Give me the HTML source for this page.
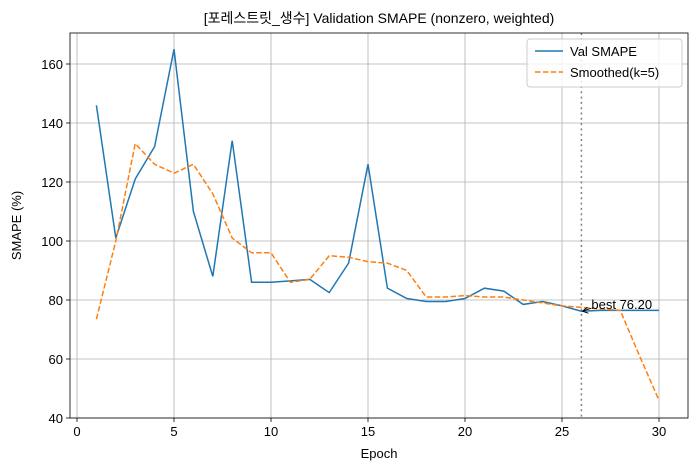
<!DOCTYPE html>
<html><head><meta charset="utf-8"><style>
body{margin:0;background:#fff;}
svg text{font-family:"Liberation Sans","Noto Sans CJK KR",sans-serif;fill:#000;}
</style></head><body>
<svg width="698" height="471" xmlns="http://www.w3.org/2000/svg">
<g id="grid"></g>
<g id="series"></g>
<g id="axes"></g>
</svg>
<script>
const epochs=[1,2,3,4,5,6,7,8,9,10,11,12,13,14,15,16,17,18,19,20,21,22,23,24,25,26,27,28,29,30];
const valSmape=[146,101,121,132,165,110,88,134,86,86,86.5,87,82.5,92.5,126,84,80.5,79.5,79.5,80.5,84,83,78.5,79.5,78,76.2,76.5,76.5,76.5,76.5];
const smoothed=[73.5,100,133,126,123,126,116,101,96,96,86,87,95,94.5,93,92.5,90,81,81,81.5,81,81,80,79,78,77.5,77,76.5,61,46];
const xTicks=[0,5,10,15,20,25,30];
const yTicks=[40,60,80,100,120,140,160];
const bestEpoch=26, bestVal=76.20;
const L=70,R=688,T=33,B=418;
const xS=v=>77+(v-0)*(659-77)/30;
const yS=v=>418-(v-40)*(418-64)/120;
const NS="http://www.w3.org/2000/svg";
function mk(tag,attrs,parent){const e=document.createElementNS(NS,tag);for(const k in attrs)e.setAttribute(k,attrs[k]);parent.appendChild(e);return e;}
const svg=document.querySelector('svg');
const grid=document.getElementById('grid'),ser=document.getElementById('series'),ax=document.getElementById('axes');
xTicks.forEach(t=>{const x=xS(t);
 let g=mk('line',{x1:x,x2:x,y1:T,y2:B,stroke:'#b0b0b0','stroke-width':0.8},grid);
 
 mk('line',{x1:x,x2:x,y1:B,y2:B+4,stroke:'#000','stroke-width':0.8},ax);
 let tx=mk('text',{x:x,y:B+18,'text-anchor':'middle','font-size':13},ax);tx.textContent=t;
 });
yTicks.forEach(t=>{const y=yS(t);
 let g=mk('line',{x1:L,x2:R,y1:y,y2:y,stroke:'#b0b0b0','stroke-width':0.8},grid);
 
 mk('line',{x1:L-4,x2:L,y1:y,y2:y,stroke:'#000','stroke-width':0.8},ax);
 let tx=mk('text',{x:L-7,y:y+5,'text-anchor':'end','font-size':13},ax);tx.textContent=t;
 });
let bl=mk('line',{x1:xS(bestEpoch),x2:xS(bestEpoch),y1:T,y2:B,stroke:'#808080','stroke-width':1.5,'stroke-dasharray':'2,3.3'},ser);

let p1=mk('polyline',{points:epochs.map((e,i)=>xS(e)+','+yS(valSmape[i])).join(' '),fill:'none',stroke:'#1f77b4','stroke-width':1.5},ser);

let p2=mk('polyline',{points:epochs.map((e,i)=>xS(e)+','+yS(smoothed[i])).join(' '),fill:'none',stroke:'#ff7f0e','stroke-width':1.5,'stroke-dasharray':'5.5,2.4'},ser);

const bx=xS(bestEpoch),by=yS(bestVal);
let ar=mk('path',{d:`M${bx+10},${by-3} L${bx+1},${by} M${bx+1},${by} l5,-4 M${bx+1},${by} l6,2`,stroke:'#000','stroke-width':1,fill:'none'},ax);

let at=mk('text',{x:bx+10,y:by-2,'font-size':13},ax);at.textContent='best '+bestVal.toFixed(2);

let fr=mk('rect',{x:L,y:T,width:R-L,height:B-T,fill:'none',stroke:'#000','stroke-width':0.8},ax);

let ti=mk('text',{x:(L+R)/2,y:23,'text-anchor':'middle','font-size':14},ax);ti.textContent='[포레스트릿_생수] Validation SMAPE (nonzero, weighted)';

let xl=mk('text',{x:(L+R)/2,y:458,'text-anchor':'middle','font-size':13},ax);xl.textContent='Epoch';

let yl=mk('text',{x:21,y:(T+B)/2,'text-anchor':'middle','font-size':13,transform:`rotate(-90 21 ${(T+B)/2})`},ax);yl.textContent='SMAPE (%)';

const lg=mk('g',{},ax);
mk('rect',{x:527,y:39,width:155,height:48,rx:3,fill:'#fff','fill-opacity':0.8,stroke:'#ccc'},lg);
let le1=mk('line',{x1:535,x2:563,y1:51,y2:51,stroke:'#1f77b4','stroke-width':1.5},lg);

let lt1=mk('text',{x:570,y:56,'font-size':13},lg);lt1.textContent='Val SMAPE';
let le2=mk('line',{x1:535,x2:563,y1:72,y2:72,stroke:'#ff7f0e','stroke-width':1.5,'stroke-dasharray':'5.5,2.4'},lg);

let lt2=mk('text',{x:570,y:77,'font-size':13},lg);lt2.textContent='Smoothed(k=5)';
</script>
</body></html>
